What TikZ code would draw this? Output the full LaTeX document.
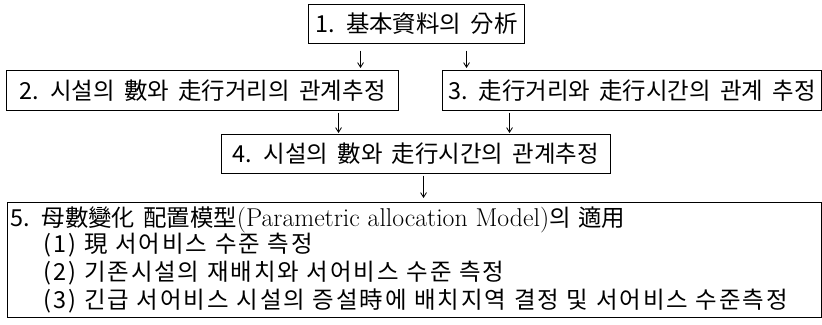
\documentclass[tikz,border=0pt]{standalone}
\usepackage{fontspec}
\newfontfamily\kr{Noto Sans CJK KR}
\newfontfamily\krwide[LetterSpace=8]{Noto Sans CJK KR}
\usetikzlibrary{positioning,arrows.meta}
\newcommand\boxfont{\kr\fontsize{20}{24}\selectfont\spaceskip=0.4em\relax}
\newcommand\listfont{\kr\fontsize{20}{24.2}\selectfont\spaceskip=0.45em\relax}
\newcommand\listitem[1]{\hspace*{10mm}{\krwide #1}}

\begin{document}
\begin{tikzpicture}[x=0.3mm, y=-0.3mm,
	box/.style={rectangle, draw, line width=0.9pt, anchor=north west, inner xsep=2.5pt, align=center, font=\boxfont},
	flow/.style={-{Straight Barb[length=4pt,width=5pt]}, line width=0.7pt}]
	\useasboundingbox (0,0) rectangle (822,324);
	\node[box, minimum width=64.8mm, minimum height=11.7mm] (B1) at (308,4) {1. 基本資料의 分析};
	\node[box, minimum width=117.6mm, minimum height=12mm] (B2) at (6,70) {2. 시설의 數와 走行거리의 관계추정};
	\node[box, minimum width=113.7mm, minimum height=12mm] (B3) at (442,70) {3. 走行거리와 走行시간의 관계 추정};
	\node[box, minimum width=116.7mm, minimum height=11.7mm] (B4) at (221,134) {4. 시설의 數와 走行시간의 관계추정};
	\node[box, align=left, text width=242.4mm, minimum height=33.6mm, font=\listfont] (B5) at (7,202) {5. 母數變化 配置模型{\rmfamily\fontsize{22}{24.2}\selectfont(Parametric allocation Model)}의 適用\\[-2pt]
		\listitem{(1) 現 서어비스 수준 측정}\\
		\listitem{(2) 기존시설의 재배치와 서어비스 수준 측정}\\
		\listitem{(3) 긴급 서어비스 시설의 증설時에 배치지역 결정 및 서어비스 수준측정}};
	% arrows
	\draw[flow, shorten <=2mm, shorten >=0.6mm] ([xshift=-16.8mm]B1.south) coordinate (p1) -- (B2.north -| p1);
	\draw[flow, shorten <=2mm, shorten >=0.6mm] ([xshift=15mm]B1.south) coordinate (p2) -- (B3.north -| p2);
	\draw[flow, shorten <=0.5mm, shorten >=0.3mm] ([xshift=-23.25mm]B4.north) coordinate (p3) (B2.south -| p3) -- (p3);
	\draw[flow, shorten <=0.5mm, shorten >=0.3mm] ([xshift=28.05mm]B4.north) coordinate (p4) (B3.south -| p4) -- (p4);
	\draw[flow, shorten <=0.5mm, shorten >=1.2mm] ([xshift=2.25mm]B4.south) coordinate (p5) -- (B5.north -| p5);
\end{tikzpicture}
\end{document}
